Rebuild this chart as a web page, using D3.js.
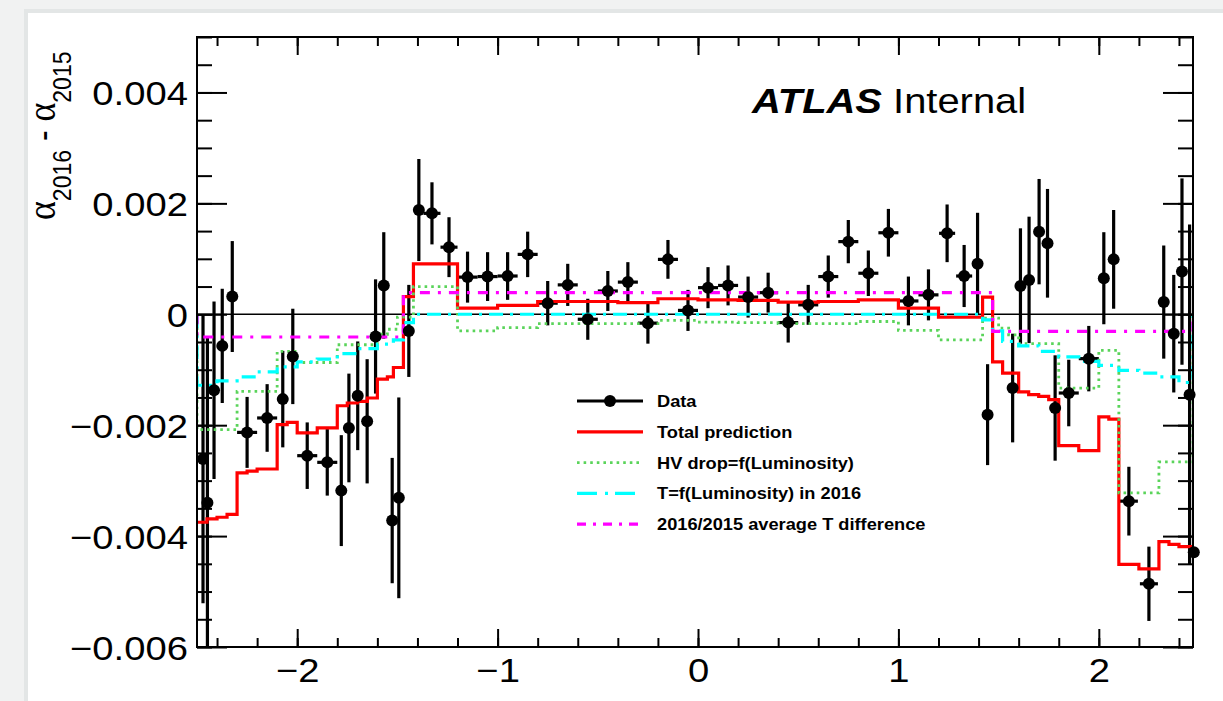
<!DOCTYPE html>
<html>
<head>
<meta charset="utf-8">
<script src="https://cdn.jsdelivr.net/npm/d3@7"></script>
<style>
  body { margin: 0; background: #f1f2f2; }
  svg { display: block; }
</style>
</head>
<body>
<svg id="chart" width="1223" height="701"></svg>
<script>
// ---- data: alpha(2016) - alpha(2015) vs eta ----
const dataEta = [-2.470, -2.448, -2.415, -2.374, -2.324, -2.25, -2.15, -2.072, -2.022, -1.95,
  -1.85, -1.78, -1.742, -1.698, -1.651, -1.609, -1.568, -1.526, -1.493, -1.443,
  -1.393, -1.3275, -1.2425, -1.15, -1.05, -0.95, -0.85, -0.75, -0.65, -0.55,
  -0.45, -0.35, -0.25, -0.15, -0.05, 0.05, 0.15, 0.25, 0.35, 0.45,
  0.55, 0.65, 0.75, 0.85, 0.95, 1.05, 1.15, 1.243, 1.328, 1.395,
  1.445, 1.570, 1.609, 1.652, 1.702, 1.744, 1.782, 1.85, 1.95, 2.025,
  2.074, 2.15, 2.25, 2.324, 2.374, 2.415, 2.453, 2.474]
const dataEtaErr = [0.01, 0.012, 0.02, 0.02, 0.025, 0.05, 0.05, 0.025, 0.025, 0.05,
  0.05, 0.02, 0.02, 0.02, 0.02, 0.02, 0.02, 0.02, 0.025, 0.025,
  0.025, 0.0425, 0.0425, 0.05, 0.05, 0.05, 0.05, 0.05, 0.05, 0.05,
  0.05, 0.05, 0.05, 0.05, 0.05, 0.05, 0.05, 0.05, 0.05, 0.05,
  0.05, 0.05, 0.05, 0.05, 0.05, 0.05, 0.05, 0.04, 0.04, 0.025,
  0.025, 0.02, 0.02, 0.02, 0.02, 0.02, 0.02, 0.05, 0.05, 0.025,
  0.025, 0.045, 0.045, 0.025, 0.025, 0.02, 0.015, 0.01]
const dataAlpha = [-0.00261, -0.00340, -0.00137, -0.00057, 0.00032, -0.00213, -0.00187, -0.00153, -0.00076, -0.00255,
  -0.00267, -0.00318, -0.00205, -0.00147, -0.00193, -0.00040, 0.00052, -0.00372, -0.00331, -0.00030,
  0.00188, 0.00182, 0.00121, 0.00067, 0.00068, 0.00069, 0.00108, 0.00020, 0.00053, -0.00009,
  0.00042, 0.00058, -0.00016, 0.00099, 0.00007, 0.00048, 0.00052, 0.00031, 0.00039, -0.00015,
  0.00017, 0.00068, 0.00131, 0.00074, 0.00147, 0.00024, 0.00035, 0.00146, 0.00069, 0.00091,
  -0.00181, -0.00133, 0.00051, 0.00062, 0.00149, 0.00128, -0.00169, -0.00142, -0.00080, 0.00065,
  0.00099, -0.00337, -0.00486, 0.00022, -0.00035, 0.00077, -0.00145, -0.00429]
const dataAlphaErr = [0.00260, 0.00297, 0.00160, 0.00103, 0.00100, 0.00064, 0.00061, 0.00087, 0.00086, 0.00060,
  0.00060, 0.00100, 0.00098, 0.00098, 0.00112, 0.00103, 0.00096, 0.00113, 0.00181, 0.00083,
  0.00092, 0.00056, 0.00054, 0.00046, 0.00044, 0.00043, 0.00041, 0.00040, 0.00038, 0.00037,
  0.00036, 0.00036, 0.00037, 0.00035, 0.00037, 0.00037, 0.00036, 0.00037, 0.00036, 0.00036,
  0.00036, 0.00038, 0.00039, 0.00041, 0.00043, 0.00044, 0.00046, 0.00052, 0.00056, 0.00092,
  0.00091, 0.00098, 0.00104, 0.00114, 0.00095, 0.00098, 0.00095, 0.00060, 0.00059, 0.00083,
  0.00089, 0.00062, 0.00067, 0.00102, 0.00106, 0.00168, 0.00307, 0.00256]

// Total prediction (bin edges + contents)
const predEdges = [-2.5, -2.45, -2.4, -2.35, -2.3, -2.25, -2.2, -2.1, -2.05, -2.0,
  -1.9, -1.8, -1.75, -1.7, -1.65, -1.6, -1.55, -1.52, -1.47, -1.42,
  -1.2, -1.0, -0.8, -0.6, -0.4, -0.2, 0, 0.2, 0.4, 0.6,
  0.8, 1.0, 1.2, 1.42, 1.47, 1.52, 1.6, 1.65, 1.7, 1.75,
  1.8, 1.9, 2.0, 2.05, 2.1, 2.2, 2.3, 2.35, 2.4, 2.47]
const predValues = [-0.00375, -0.00369, -0.00366, -0.00361, -0.00286, -0.00283, -0.00279, -0.00199, -0.00195,
  -0.00214, -0.00205, -0.00165, -0.00160, -0.00157, -0.00151, -0.00117, -0.00113, -0.00096, 0.00032,
  0.00091, 0.00011, 0.00016, 0.00023, 0.00023, 0.00021, 0.00028, 0.00026, 0.00025, 0.00022,
  0.00023, 0.00026, 0.00011, -0.00005, 0.00031, -0.00086, -0.00106, -0.00140, -0.00145, -0.00148,
  -0.00154, -0.00237, -0.00246, -0.00185, -0.00189, -0.00451, -0.00459, -0.00410, -0.00415, -0.00419]

// HV drop = f(Luminosity)
const hvEdges = [-2.5, -2.3, -2.1, -2.0, -1.8, -1.6, -1.55, -1.5, -1.42, -1.2,
  -1.0, -0.8, -0.2, 0, 0.2, 0.4, 0.6, 0.8, 1.0, 1.2,
  1.42, 1.5, 1.55, 1.6, 1.8, 2.0, 2.1, 2.3, 2.47]
const hvValues = [-0.00208, -0.00139, -0.00067, -0.00087, -0.00055, -0.00036, -0.00027, -0.00005, 0.00050,
  -0.00030, -0.00024, -0.00017, -0.00011, -0.00014, -0.00015, -0.00017, -0.00017, -0.00013, -0.00029,
  -0.00046, -0.00007, -0.00025, -0.00037, -0.00053, -0.00133, -0.00065, -0.00322, -0.00266]

// T = f(Luminosity) in 2016
const tLumiEdges = [-2.5, -2.4, -2.3, -2.2, -2.1, -2.0, -1.9, -1.8, -1.7, -1.6,
  -1.52, -1.47, -1.42, 1.42, 1.47, 1.52, 1.6, 1.7, 1.8, 1.9,
  2.0, 2.1, 2.2, 2.3, 2.4, 2.47]
const tLumiValues = [-0.00128, -0.00120, -0.00113, -0.00104, -0.00095, -0.00086, -0.00081, -0.00071, -0.00062,
  -0.00054, -0.00046, -0.00015, 0.0, -0.00010, -0.00030, -0.00049, -0.00057, -0.00067, -0.00077,
  -0.00085, -0.00092, -0.00101, -0.00106, -0.00113, -0.00123]

// 2016/2015 average T difference
const avgTEdges = [-2.5, -1.47, 1.47, 2.47]
const avgTValues = [-0.00041, 0.00039, -0.00031]

const yMajorTicks = [-0.006, -0.004, -0.002, 0, 0.002, 0.004]
const yTickLabels = ["\u22120.006", "\u22120.004", "\u22120.002", "0", "0.002", "0.004"]
const xMajorTicks = [-2, -1, 0, 1, 2]
const xTickLabels = ["\u22122", "\u22121", "0", "1", "2"]

const legendLabels = ["Data", "Total prediction", "HV drop=f(Luminosity)",
  "T=f(Luminosity) in 2016", "2016/2015 average T difference"]

// ---- layout ----
const frame = { left: 197, right: 1193, top: 37, bottom: 647 }
const SX = 1.14   // horizontal stretch of the original picture
const fontSans = "'Liberation Sans', Arial, Helvetica, sans-serif"

const svg = d3.select("#chart")

// card background
svg.append("rect").attr("x", 24).attr("y", 9).attr("width", 1223).attr("height", 701)
  .attr("fill", "#e3e6e6")
svg.append("rect").attr("x", 28).attr("y", 13).attr("width", 1223).attr("height", 701)
  .attr("fill", "#ffffff")

const x = d3.scaleLinear().domain([-2.5, 2.47]).range([frame.left, frame.right])
const y = d3.scaleLinear().domain([-0.006, 0.005]).range([frame.bottom, frame.top])

svg.append("clipPath").attr("id", "plotclip")
  .append("rect")
    .attr("x", frame.left).attr("y", frame.top)
    .attr("width", frame.right - frame.left)
    .attr("height", frame.bottom - frame.top)

const plot = svg.append("g").attr("clip-path", "url(#plotclip)")

// ---- data points ----
const points = dataEta.map((e, i) => ({
  eta: e, etaErr: dataEtaErr[i], val: dataAlpha[i], err: dataAlphaErr[i]
}))

plot.append("g").selectAll("line")
  .data(points)
  .enter()
  .append("line")
    .attr("x1", d => x(d.eta)).attr("x2", d => x(d.eta))
    .attr("y1", d => y(d.val - d.err)).attr("y2", d => y(d.val + d.err))
    .attr("stroke", "#000").attr("stroke-width", 3.2)

plot.append("g").selectAll("line")
  .data(points)
  .enter()
  .append("line")
    .attr("x1", d => x(d.eta - d.etaErr)).attr("x2", d => x(d.eta + d.etaErr))
    .attr("y1", d => y(d.val)).attr("y2", d => y(d.val))
    .attr("stroke", "#000").attr("stroke-width", 3.2)

svg.append("g").selectAll("circle")
  .data(points)
  .enter()
  .append("circle")
    .attr("cx", d => x(d.eta))
    .attr("cy", d => y(d.val))
    .attr("r", 6)
    .attr("fill", "#000")

// zero line
plot.append("line")
  .attr("x1", x(-2.5)).attr("x2", x(2.47))
  .attr("y1", y(0)).attr("y2", y(0))
  .attr("stroke", "#000").attr("stroke-width", 1.5)

// ---- histograms ----
function histPoints(edges, values, dropToZero) {
  const pts = []
  if (dropToZero) pts.push([edges[0], 0])
  values.forEach((v, i) => pts.push([edges[i], v]))
  pts.push([edges[edges.length - 1], values[values.length - 1]])
  if (dropToZero) pts.push([edges[edges.length - 1], 0])
  return pts
}

const stepLine = d3.line()
  .x(d => x(d[0]))
  .y(d => y(d[1]))
  .curve(d3.curveStepAfter)

const series = [
  { edges: predEdges, values: predValues, color: "#ff0000", dash: null, width: 3.2, zero: false },
  { edges: hvEdges, values: hvValues, color: "#5ad45a", dash: "2.6,4", width: 2.8, zero: true },
  { edges: tLumiEdges, values: tLumiValues, color: "#00ffff", dash: "14,7,3,7", width: 3.2, zero: true },
  { edges: avgTEdges, values: avgTValues, color: "#ff00ff", dash: "10,8,3,8", width: 3.2, zero: true }
]

series.forEach(s => {
  plot.append("path")
    .datum(histPoints(s.edges, s.values, s.zero))
    .attr("d", stepLine)
    .attr("fill", "none")
    .attr("stroke", s.color)
    .attr("stroke-width", s.width)
    .attr("stroke-dasharray", s.dash)
})

// ---- axes (ROOT style, ticks inside on all four sides) ----
const xMinor = d3.range(-2.4, 2.47, 0.2).map(v => +v.toFixed(2))
const yMinor = d3.range(-0.006, 0.00501, 0.0005).map(v => +v.toFixed(5))

function styleAxis(g) {
  g.selectAll(".domain").remove()
  g.selectAll("line").attr("stroke", "#000").attr("stroke-width", 2)
}

// bottom
svg.append("g")
  .attr("transform", `translate(0,${frame.bottom})`)
  .call(d3.axisBottom(x).tickValues(xMinor).tickSize(-9).tickFormat(""))
  .call(styleAxis)
const xAxisBottom = svg.append("g")
  .attr("transform", `translate(0,${frame.bottom})`)
  .call(d3.axisBottom(x).tickValues(xMajorTicks).tickSize(-18).tickPadding(11)
    .tickFormat((d, i) => xTickLabels[i]))
  .call(styleAxis)
xAxisBottom.selectAll("text")
  .attr("font-family", fontSans).attr("font-size", 33.5).attr("fill", "#000")
  .attr("transform", `scale(${SX},1)`)

// top
svg.append("g")
  .attr("transform", `translate(0,${frame.top})`)
  .call(d3.axisTop(x).tickValues(xMinor).tickSize(-9).tickFormat(""))
  .call(styleAxis)
svg.append("g")
  .attr("transform", `translate(0,${frame.top})`)
  .call(d3.axisTop(x).tickValues(xMajorTicks).tickSize(-18).tickFormat(""))
  .call(styleAxis)

// left
svg.append("g")
  .attr("transform", `translate(${frame.left},0)`)
  .call(d3.axisLeft(y).tickValues(yMinor).tickSize(-15).tickFormat(""))
  .call(styleAxis)
const yAxisLeft = svg.append("g")
  .attr("transform", `translate(${frame.left},0)`)
  .call(d3.axisLeft(y).tickValues(yMajorTicks).tickSize(-30).tickPadding(8)
    .tickFormat((d, i) => yTickLabels[i]))
  .call(styleAxis)
yAxisLeft.selectAll("text")
  .attr("font-family", fontSans).attr("font-size", 33.5).attr("fill", "#000")
  .attr("dy", "0.36em")
  .attr("transform", `scale(${SX},1)`)

// right
svg.append("g")
  .attr("transform", `translate(${frame.right},0)`)
  .call(d3.axisRight(y).tickValues(yMinor).tickSize(-15).tickFormat(""))
  .call(styleAxis)
svg.append("g")
  .attr("transform", `translate(${frame.right},0)`)
  .call(d3.axisRight(y).tickValues(yMajorTicks).tickSize(-30).tickFormat(""))
  .call(styleAxis)

// frame
svg.append("rect")
  .attr("x", frame.left).attr("y", frame.top)
  .attr("width", frame.right - frame.left).attr("height", frame.bottom - frame.top)
  .attr("fill", "none").attr("stroke", "#000").attr("stroke-width", 2)

// ---- y axis title: alpha_2016 - alpha_2015 ----
const yTitle = svg.append("text")
  .attr("transform", `translate(55,220) rotate(-90) scale(1,${SX})`)
  .attr("font-family", fontSans).attr("font-size", 32).attr("fill", "#000")
yTitle.append("tspan").attr("font-family", "'Liberation Serif', 'DejaVu Serif', serif").attr("font-size", 36).text("\u03b1")
yTitle.append("tspan").attr("font-size", 23).attr("dy", 14).text("2016")
yTitle.append("tspan").attr("dy", -14).text(" - ")
yTitle.append("tspan").attr("font-family", "'Liberation Serif', 'DejaVu Serif', serif").attr("font-size", 36).text("\u03b1")
yTitle.append("tspan").attr("font-size", 23).attr("dy", 14).text("2015")

// ---- ATLAS Internal ----
const atlas = svg.append("text")
  .attr("transform", `translate(752,113) scale(${SX},1)`)
  .attr("font-family", fontSans).attr("font-size", 35).attr("fill", "#000")
atlas.append("tspan").attr("font-weight", "bold").attr("font-style", "italic").text("ATLAS")
atlas.append("tspan").text(" Internal")

// ---- legend ----
const legendX0 = 577, legendX1 = 643, legendTextX = 657
const legendY0 = 401, legendDY = 30.8
const legendStyles = [
  { color: "#000", dash: null, width: 3.2, marker: true },
  { color: "#ff0000", dash: null, width: 3.2, marker: false },
  { color: "#5ad45a", dash: "2.6,4", width: 2.8, marker: false },
  { color: "#00ffff", dash: "20,8,3,7", width: 3.2, marker: false },
  { color: "#ff00ff", dash: "9,7,3,7", width: 3.2, marker: false }
]

const legend = svg.append("g")
legendLabels.forEach((label, i) => {
  const ly = legendY0 + i * legendDY
  const st = legendStyles[i]
  legend.append("line")
    .attr("x1", legendX0).attr("x2", legendX1)
    .attr("y1", ly).attr("y2", ly)
    .attr("stroke", st.color).attr("stroke-width", st.width)
    .attr("stroke-dasharray", st.dash)
  if (st.marker) {
    legend.append("circle").attr("cx", (legendX0 + legendX1) / 2).attr("cy", ly)
      .attr("r", 6).attr("fill", "#000")
  }
  legend.append("text")
    .attr("transform", `translate(${legendTextX},${ly + 6}) scale(${SX},1)`)
    .attr("font-family", fontSans).attr("font-weight", "bold").attr("font-size", 16)
    .attr("fill", "#000")
    .text(label)
})
</script>
</body>
</html>
